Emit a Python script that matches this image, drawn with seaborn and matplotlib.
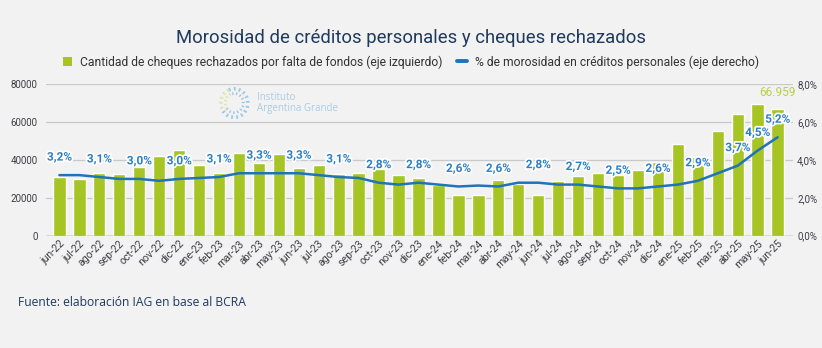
import numpy as np
import pandas as pd
import matplotlib
matplotlib.use("Agg")
import matplotlib.pyplot as plt
import matplotlib.patheffects as pe
from matplotlib.patches import Patch, Arc
from matplotlib.lines import Line2D
import seaborn as sns

# ---- data ----
months = ["jun-22", "jul-22", "ago-22", "sep-22", "oct-22", "nov-22", "dic-22",
          "ene-23", "feb-23", "mar-23", "abr-23", "may-23", "jun-23", "jul-23",
          "ago-23", "sep-23", "oct-23", "nov-23", "dic-23",
          "ene-24", "feb-24", "mar-24", "abr-24", "may-24", "jun-24", "jul-24",
          "ago-24", "sep-24", "oct-24", "nov-24", "dic-24",
          "ene-25", "feb-25", "mar-25", "abr-25", "may-25", "jun-25"]
cheques = [30900, 30100, 33100, 32600, 36500, 42100, 45300,
           37500, 33100, 43700, 38600, 43300, 35900, 37500,
           32600, 33100, 35100, 31900, 30700,
           26800, 21700, 21400, 29300, 27500, 21400, 28700,
           31600, 33100, 31900, 34900, 38800,
           48600, 41500, 55200, 64200, 69400, 66959]
morosidad = [3.2, 3.2, 3.1, 3.0, 3.0, 2.9, 3.0,
             3.05, 3.1, 3.3, 3.3, 3.3, 3.3, 3.2,
             3.1, 3.05, 2.8, 2.7, 2.8,
             2.7, 2.6, 2.65, 2.6, 2.8, 2.8, 2.7,
             2.7, 2.6, 2.5, 2.5, 2.6,
             2.7, 2.9, 3.3, 3.7, 4.5, 5.2]
labeled_months = ["jun-22", "ago-22", "oct-22", "dic-22", "feb-23", "abr-23",
                  "jun-23", "ago-23", "oct-23", "dic-23", "feb-24", "abr-24",
                  "jun-24", "ago-24", "oct-24", "dic-24", "feb-25", "abr-25",
                  "may-25", "jun-25"]
left_ticks = [0, 20000, 40000, 60000, 80000]
right_ticks = [0, 2, 4, 6, 8]

title = "Morosidad de créditos personales y cheques rechazados"
legend_bar = "Cantidad de cheques rechazados por falta de fondos (eje izquierdo)"
legend_line = "% de morosidad en créditos personales (eje derecho)"
source = "Fuente: elaboración IAG en base al BCRA"

# ---- style ----
BG = "#f2f2f2"
GREEN = "#a6c424"
BLUE = "#1f73ba"
LABEL_BLUE = "#2a7fc6"
NAVY = "#1f3a5c"
TICK = "#3d3d45"

sns.set_theme(style="white")
plt.rcParams["font.family"] = ["Roboto", "DejaVu Sans"]

df = pd.DataFrame({"mes": months, "cheques": cheques, "moros": morosidad})
df["pos"] = np.arange(len(df))

fig = plt.figure(figsize=(8.22, 3.48), dpi=100, facecolor=BG)
ax = fig.add_axes([0.056, 0.3227, 0.9087, 0.4351])
ax.set_facecolor(BG)

sns.barplot(data=df, x="mes", y="cheques", color=GREEN, saturation=1,
            width=0.62, ax=ax, zorder=2)
ax.set_xlim(-0.67, len(df) - 1 + 0.77)
ax.set_ylim(0, 80000)
ax.set_yticks(left_ticks)
ax.set_yticklabels([str(v) for v in left_ticks], fontsize=7, color=TICK)
ax.yaxis.grid(True, color="#c9c9c9", linewidth=0.9, zorder=0)
ax.set_axisbelow(True)
ax.axhline(0, color="#8a8a8a", linewidth=1.0, zorder=3)
ax.set_xlabel("")
ax.set_ylabel("")
for s in ax.spines.values():
    s.set_visible(False)
ax.tick_params(axis="y", length=0, pad=6)
ax.tick_params(axis="x", length=0, pad=2)
ax.set_xticks(df["pos"])
ax.set_xticklabels(months, rotation=45, ha="right", rotation_mode="anchor",
                   fontsize=7.6, color=TICK)

ax2 = ax.twinx()
sns.lineplot(data=df, x="pos", y="moros", color=BLUE, linewidth=1.8, ax=ax2,
             zorder=4)
ax2.set_ylim(0, 8)
ax2.set_yticks(right_ticks)
ax2.set_yticklabels([f"{v:.1f}".replace(".", ",") + "%" for v in right_ticks],
                    fontsize=7, color=TICK)
ax2.tick_params(axis="y", length=0, pad=3)
ax2.set_ylabel("")
ax2.set_xlabel("")
for s in ax2.spines.values():
    s.set_visible(False)
ax2.set_xlim(ax.get_xlim())

halo = [pe.withStroke(linewidth=2.5, foreground="white")]
for m in labeled_months:
    i = months.index(m)
    v = morosidad[i]
    ax2.annotate(f"{v:.1f}".replace(".", ",") + "%", (i, v),
                 xytext=(0, 13), textcoords="offset points",
                 ha="center", va="center", fontsize=8.5, fontweight="bold",
                 color=LABEL_BLUE, path_effects=halo, zorder=6)

# last bar value
last = len(df) - 1
ax.annotate(f"{cheques[-1]:,}".replace(",", "."), (last, cheques[-1]),
            xytext=(0, 12), textcoords="offset points", ha="center",
            va="center", fontsize=8.5, color="#b8d040", zorder=6)

# watermark
fig.text(0.313, 0.703, "Instituto\nArgentina Grande", fontsize=7,
         color="#a9cde8", ha="left", va="center", linespacing=1.0,
         family=["Open Sans", "DejaVu Sans"])
for w, h, lw in [(0.033, 0.082, 2.6), (0.022, 0.055, 2.0)]:
    fig.add_artist(Arc((0.285, 0.704), w, h, theta1=-120, theta2=100,
                       transform=fig.transFigure, color="#9cc8e8",
                       linewidth=lw, linestyle=(0, (0.5, 0.9))))
    fig.add_artist(Arc((0.285, 0.704), w, h, theta1=100, theta2=240,
                       transform=fig.transFigure, color="#dde6a8",
                       linewidth=lw, linestyle=(0, (0.5, 0.9))))

# title & legend
fig.text(0.5, 0.891, title, ha="center", va="center", fontsize=13.3,
         color=NAVY)
handles = [Patch(facecolor=GREEN, edgecolor="none", label=legend_bar),
           Line2D([0], [0], color=BLUE, linewidth=2.8, label=legend_line)]
fig.legend(handles=handles, loc="center", bbox_to_anchor=(0.5, 0.822),
           ncol=2, frameon=False, fontsize=8.75, handlelength=0.75,
           handleheight=0.75, handletextpad=0.7, columnspacing=1.2,
           labelcolor="#333333")

fig.text(0.022, 0.132, source, ha="left", va="center", fontsize=8.7,
         color=NAVY, family=["Open Sans", "DejaVu Sans"])

fig.savefig("out.png", dpi=100, facecolor=BG)
